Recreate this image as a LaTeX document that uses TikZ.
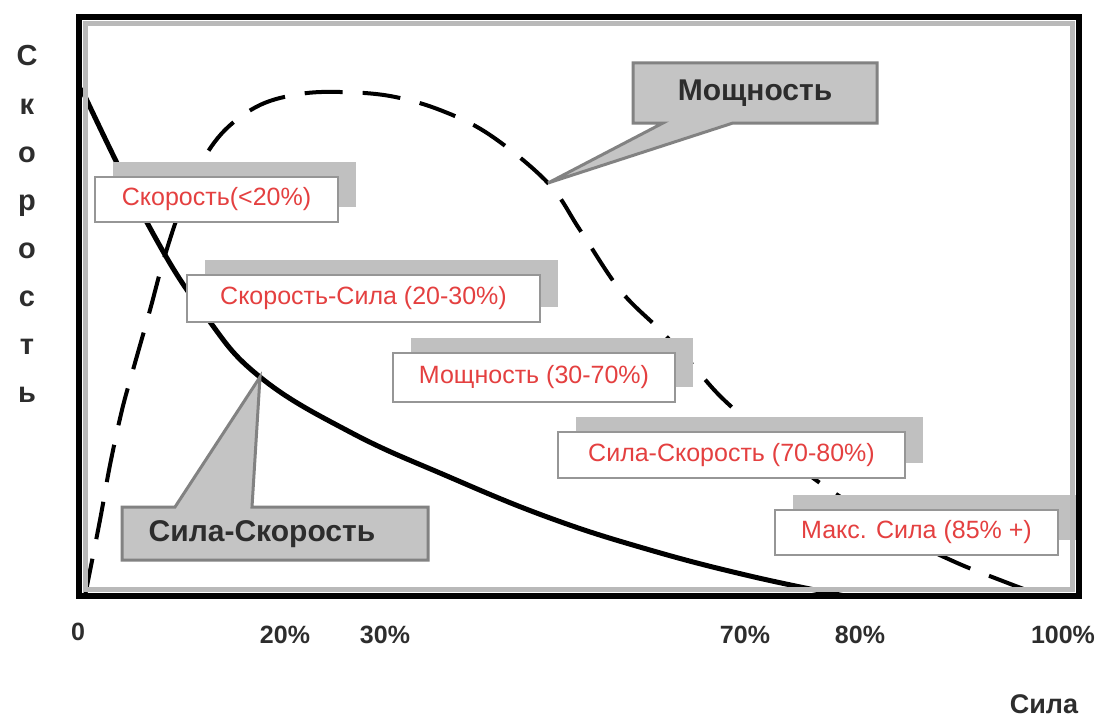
\documentclass[tikz,border=0pt]{standalone}
\usepackage{fontspec}
\setmainfont{Liberation Sans}
\usetikzlibrary{shadows}
\definecolor{lblred}{RGB}{228,64,64}
\definecolor{shadowgray}{RGB}{192,192,192}
\definecolor{boxborder}{RGB}{150,150,150}
\definecolor{callfillc}{RGB}{196,196,196}
\definecolor{callborder}{RGB}{130,130,130}
\definecolor{darktext}{RGB}{45,45,45}
\begin{document}
\begin{tikzpicture}[x=1pt,y=-1pt,
  lbl/.style={draw=boxborder, line width=2.5pt, fill=white, text=lblred,
    font=\fontsize{25}{28}\selectfont, inner sep=0pt,
    drop shadow={shadow xshift=18pt, shadow yshift=15pt, fill=shadowgray, opacity=1}},
  callshape/.style={fill=callfillc, draw=callborder, line width=3pt, line join=miter},
  calltext/.style={text=darktext, font=\fontsize{30}{32}\selectfont\bfseries, inner sep=0pt},
  axislbl/.style={text=darktext, font=\fontsize{29}{30}\selectfont\bfseries, inner sep=0pt, anchor=base},
  ticklbl/.style={text=darktext, font=\fontsize{25}{28}\selectfont\bfseries, inner sep=0pt},
  speedcurve/.style={black, line width=5pt, line cap=round},
  powercurve/.style={black, line width=4pt, dash pattern=on 38pt off 20pt}
]
\useasboundingbox (0,0) rectangle (1100,717);
\fill[white] (0,0) rectangle (1100,717);

% curves
\draw[speedcurve] plot[smooth, tension=0.7] coordinates {(82,90) (150,228) (205,315) (260,377) (350,432) (447,476) (550,518) (650,550) (750,576) (845,596)};
\draw[powercurve] plot[smooth, tension=0.6] coordinates {(85,596) (100,520) (110,465) (122,410) (133,370) (150,310) (163,262) (180,210) (200,165) (225,130) (260,105) (300,94) (340,92) (390,96) (440,110) (490,135) (548,183) (580,230) (620,290) (660,330) (690,362) (720,396) (760,432) (800,468) (845,500) (900,535) (955,562) (1000,580) (1045,597)};

% zone labels
\node[lbl, minimum width=243pt, minimum height=45pt] (z1) at (216.5,199.5) {Скорость(<20\%)};
\node[lbl, minimum width=353pt, minimum height=47pt] (z2) at (363.5,298.5) {Скорость-Сила (20-30\%)};
\node[lbl, minimum width=282pt, minimum height=49pt] (z3) at (534,377.5) {Мощность (30-70\%)};
\node[lbl, minimum width=347pt, minimum height=46pt] (z4) at (731.5,455) {Сила-Скорость (70-80\%)};
\node[lbl, minimum width=283pt, minimum height=45pt] (z5) at (916.5,532.5) {Макс. Сила (85\% +)};

% callouts
\coordinate (moTip) at (548,183);
\path[callshape] (633,63) -- (877,63) -- (877,123) -- (733,123) -- (moTip) -- (663,123) -- (633,123) -- cycle;
\node[calltext] (mo) at (755,93) {Мощность};

\coordinate (ssTip) at (260,377);
\path[callshape] (122,507) -- (175,507) -- (ssTip) -- (252,507) -- (428,507) -- (428,560) -- (122,560) -- cycle;
\node[calltext] (ss) at (262,534) {Сила-Скорость};

% frame
\draw[gray!55, line width=5pt] (85.5,23.5) rectangle (1072.5,589.5);
\draw[black, line width=6pt] (79,17) rectangle (1079,596);

% vertical axis label
\foreach \ch [count=\i from 0] in {С,к,о,р,о,с,т,ь}
  \node[axislbl] (yl\i) at (27,{66+48*\i}) {\ch};

% tick labels
\node[ticklbl] (t0) at (78,632) {0};
\node[ticklbl] (t20) at (285,635) {20\%};
\node[ticklbl] (t30) at (385,635) {30\%};
\node[ticklbl] (t70) at (745,635) {70\%};
\node[ticklbl] (t80) at (860,635) {80\%};
\node[ticklbl] (t100) at (1063,635) {100\%};
\node[ticklbl, font=\fontsize{27}{30}\selectfont\bfseries] (xl) at (1044,704) {Сила};
\end{tikzpicture}
\end{document}
